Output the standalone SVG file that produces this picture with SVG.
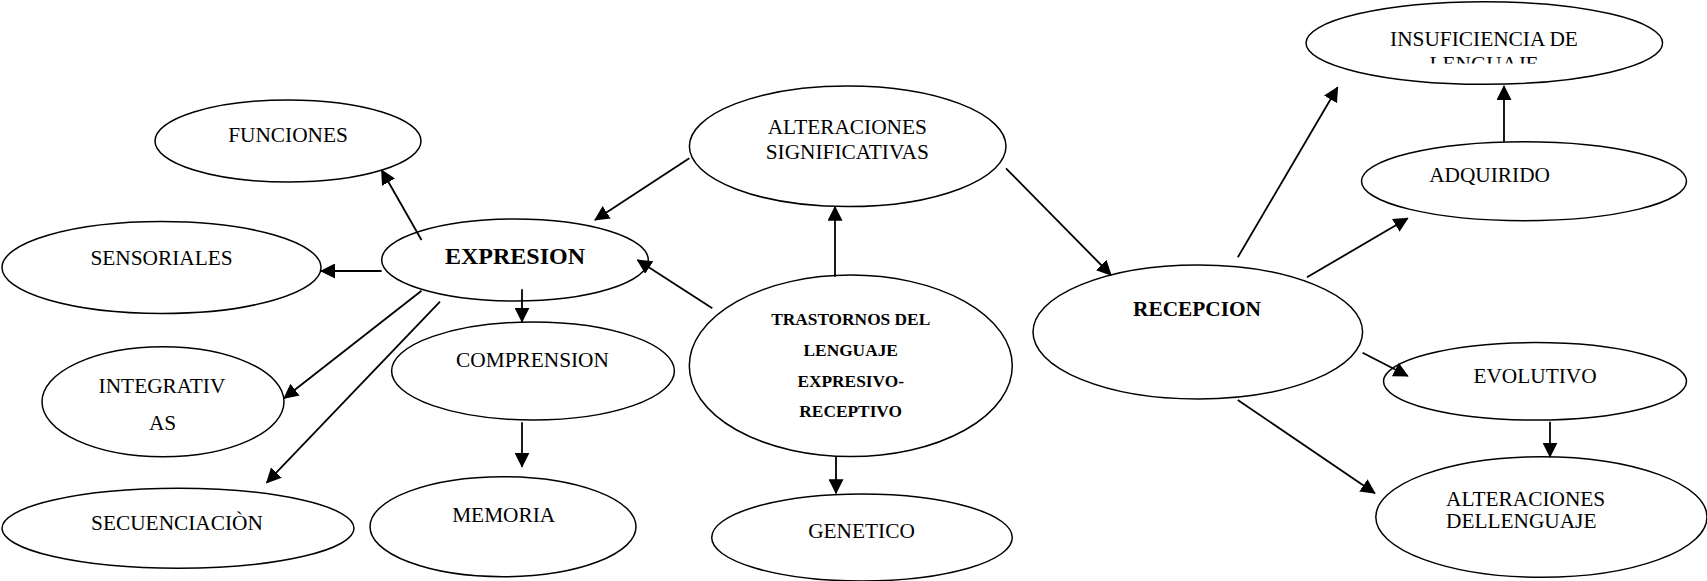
<svg xmlns="http://www.w3.org/2000/svg" width="1707" height="581" viewBox="0 0 1707 581">
<style>
.n{fill:#fff;stroke:#000;stroke-width:1.5}
.t{font-family:"Liberation Serif","Times New Roman",serif;font-size:21.33px;fill:#000;text-anchor:middle}
.b{font-weight:bold}
.c line{stroke:#000;stroke-width:1.8;marker-end:url(#ah)}
</style>
<defs>
<marker id="ah" markerUnits="userSpaceOnUse" viewBox="0 0 15 15" refX="14" refY="7.5" markerWidth="15" markerHeight="15" orient="auto">
<path d="M0,0 L15,7.5 L0,15 z" fill="#000"/>
</marker>
<clipPath id="clipIns"><rect x="1300" y="0" width="370" height="63.5"/></clipPath>
</defs>
<rect width="1707" height="581" fill="#fff"/>

<g id="funciones"><ellipse class="n" cx="288" cy="141" rx="133" ry="41"/><text class="t" x="288" y="142">FUNCIONES</text></g>
<g id="sensoriales"><ellipse class="n" cx="161.5" cy="267.5" rx="159.5" ry="46"/><text class="t" x="161.5" y="265">SENSORIALES</text></g>
<g id="expresion"><ellipse class="n" cx="515" cy="260" rx="133.3" ry="41"/><text class="t b" x="515" y="264" style="font-size:24px">EXPRESION</text></g>
<g id="integrativas"><ellipse class="n" cx="163" cy="401.7" rx="121" ry="55"/><text class="t" x="162" y="393.3">INTEGRATIV</text><text class="t" x="162.6" y="430">AS</text></g>
<g id="secuenciacion"><ellipse class="n" cx="178" cy="528.3" rx="176" ry="40"/><text class="t" x="177" y="530">SECUENCIACIÒN</text></g>
<g id="comprension"><ellipse class="n" cx="533" cy="371" rx="141.4" ry="49"/><text class="t" x="532.5" y="367.3">COMPRENSION</text></g>
<g id="memoria"><ellipse class="n" cx="503" cy="526.7" rx="133" ry="50"/><text class="t" x="503.7" y="522.3">MEMORIA</text></g>
<g id="alt-sig"><ellipse class="n" cx="847.7" cy="146.3" rx="158.3" ry="60.3"/><text class="t" x="847.3" y="134">ALTERACIONES</text><text class="t" x="847.3" y="159.3">SIGNIFICATIVAS</text></g>
<g id="trastornos"><ellipse class="n" cx="850.8" cy="365.8" rx="161.5" ry="90.8"/>
<text class="t b" style="font-size:17.33px" x="850.7" y="325">TRASTORNOS DEL</text>
<text class="t b" style="font-size:17.33px" x="850.7" y="356">LENGUAJE</text>
<text class="t b" style="font-size:17.33px" x="850.7" y="386.7">EXPRESIVO-</text>
<text class="t b" style="font-size:17.33px" x="850.7" y="416.7">RECEPTIVO</text></g>
<g id="genetico"><ellipse class="n" cx="862" cy="537.5" rx="150.3" ry="43.5"/><text class="t" x="861.5" y="538.3">GENETICO</text></g>
<g id="recepcion"><ellipse class="n" cx="1197.8" cy="332" rx="164.8" ry="67"/><text class="t b" x="1197" y="315.7">RECEPCION</text></g>
<g id="insuficiencia"><ellipse class="n" cx="1484.3" cy="43" rx="178.3" ry="41.3"/><text class="t" x="1484" y="45.7">INSUFICIENCIA DE</text><text class="t" x="1484" y="70.7" clip-path="url(#clipIns)">LENGUAJE</text></g>
<g id="adquirido"><ellipse class="n" cx="1524" cy="181.2" rx="162.5" ry="39.5"/><text class="t" x="1489.6" y="181.7">ADQUIRIDO</text></g>
<g id="evolutivo"><ellipse class="n" cx="1535" cy="381.3" rx="151.5" ry="38.7"/><text class="t" x="1535" y="383.3">EVOLUTIVO</text></g>
<g id="alt-del"><ellipse class="n" cx="1541.4" cy="517" rx="165.6" ry="60.3"/><text class="t" style="text-anchor:start" x="1446" y="505.7">ALTERACIONES</text><text class="t" style="text-anchor:start" x="1446" y="528.3">DELLENGUAJE</text></g>

<g id="connectors" class="c">
<line x1="421.5" y1="240" x2="381.6" y2="170"/>
<line x1="381.6" y1="271" x2="321" y2="271"/>
<line x1="421.5" y1="290.7" x2="284" y2="398.3"/>
<line x1="440" y1="301.7" x2="266.7" y2="482.7"/>
<line x1="522" y1="289.3" x2="522" y2="321.7"/>
<line x1="522" y1="422.3" x2="522" y2="466.7"/>
<line x1="689.3" y1="158.3" x2="595" y2="220"/>
<line x1="712.3" y1="308.3" x2="637.5" y2="260"/>
<line x1="835" y1="276.7" x2="835" y2="206.7"/>
<line x1="836" y1="456.7" x2="836" y2="493.3"/>
<line x1="1006" y1="168.3" x2="1111" y2="275"/>
<line x1="1237.8" y1="257.3" x2="1337.6" y2="87.3"/>
<line x1="1307" y1="277.3" x2="1407.8" y2="218.3"/>
<line x1="1504" y1="141.7" x2="1504" y2="86"/>
<line x1="1362.6" y1="352.7" x2="1407.8" y2="376"/>
<line x1="1237.8" y1="400" x2="1374.9" y2="493.3"/>
<line x1="1550" y1="421.7" x2="1550" y2="456.7"/>
</g>
</svg>
